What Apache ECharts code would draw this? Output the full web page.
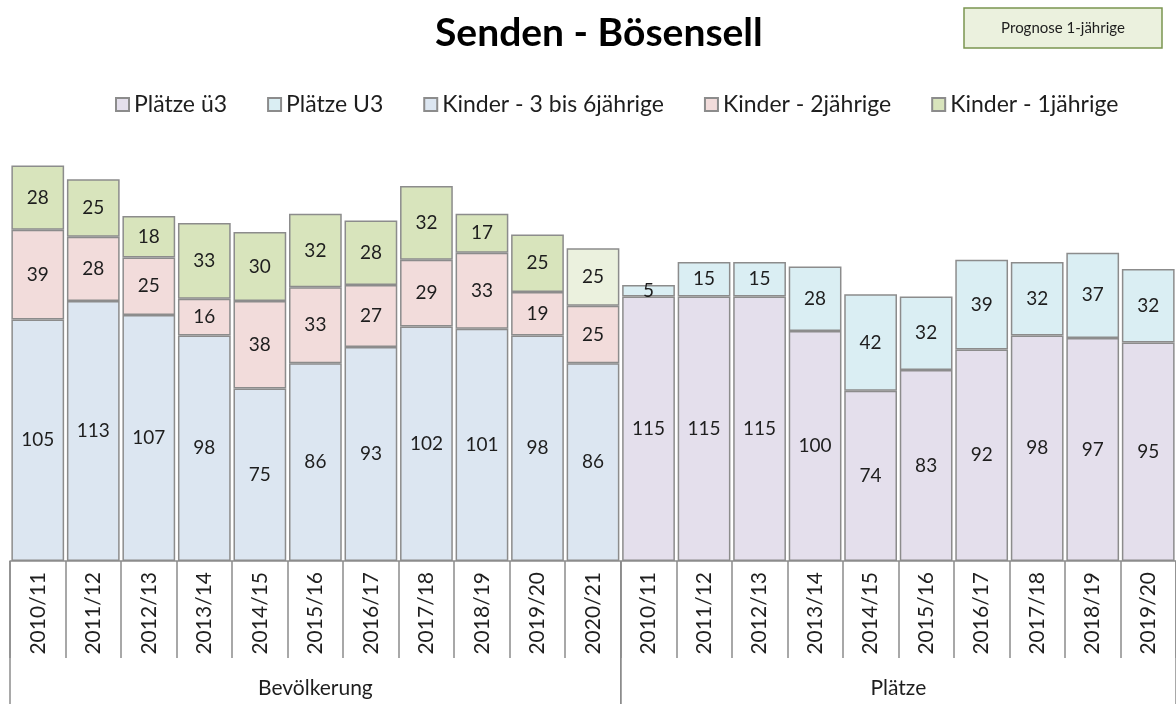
<!DOCTYPE html>
<html><head><meta charset="utf-8">
<script src="https://cdn.jsdelivr.net/npm/echarts@6/dist/echarts.min.js"></script>
<style>html,body{margin:0;padding:0;background:#fff}#c{width:1176px;height:704px}</style>
</head><body><div id="c"></div>
<script>
// ---- data ----
const categories = ['2010/11','2011/12','2012/13','2013/14','2014/15','2015/16','2016/17','2017/18','2018/19','2019/20','2020/21',
                    '2010/11','2011/12','2012/13','2013/14','2014/15','2015/16','2016/17','2017/18','2018/19','2019/20'];
const groupNames = ['Bevölkerung', 'Plätze'];
const groupSizes = [11, 10];
const kinder36   = [105,113,107,98,75,86,93,102,101,98,86, null,null,null,null,null,null,null,null,null,null];
const kinder2    = [39,28,25,16,38,33,27,29,33,19,25,      null,null,null,null,null,null,null,null,null,null];
const kinder1    = [28,25,18,33,30,32,28,32,17,25,25,      null,null,null,null,null,null,null,null,null,null];
const kinder1Prognose = [false,false,false,false,false,false,false,false,false,false,true, false,false,false,false,false,false,false,false,false,false];
const plaetzeUe3 = [null,null,null,null,null,null,null,null,null,null,null, 115,115,115,100,74,83,92,98,97,95];
const plaetzeU3  = [null,null,null,null,null,null,null,null,null,null,null, 5,15,15,28,42,32,39,32,37,32];
const seriesNames = ['Plätze ü3', 'Plätze U3', 'Kinder - 3 bis 6jährige', 'Kinder - 2jährige', 'Kinder - 1jährige'];
const prognoseText = 'Prognose 1-jährige';

// ---- style ----
const FONT = 'Lato';
const colors = ['#e4dfec', '#daeef3', '#dce6f1', '#f2dcdb', '#d8e4bc'];
const prognoseColor = '#ebf1de';
const borderCol = '#8c8c8c';
const textCol = '#1e1e1e';

const chart = echarts.init(document.getElementById('c'), null, {renderer: 'canvas'});

function mkSeries(name, data, color, prog) {
  return {
    name: name, type: 'bar', stack: 'all',
    barCategoryGap: '5%',
    data: data.map((v, i) => (prog && prog[i] && v != null) ? {value: v, itemStyle: {color: prognoseColor}} : v),
    itemStyle: {color: color, borderColor: borderCol, borderWidth: 1.5},
    label: {show: true, position: 'inside', color: textCol, fontFamily: FONT, fontSize: 19,
            formatter: p => (p.value == null ? '' : String(p.value))},
    emphasis: {disabled: true},
    animation: false
  };
}

const GRID_LEFT = 10, CAT_W = 55.8;
chart.setOption({
  animation: false,
  title: {text: 'Senden - Bösensell', left: 430, top: 9,
          textStyle: {fontFamily: FONT, fontWeight: 'bold', fontSize: 39, color: '#000'}},
  legend: {
    data: seriesNames, left: 110, top: 88, itemWidth: 13, itemHeight: 13, itemGap: 40,
    icon: 'rect',
    textStyle: {fontFamily: FONT, fontSize: 23, color: textCol},
    selectedMode: false
  },
  grid: {left: GRID_LEFT, top: 101, width: CAT_W * categories.length, bottom: 143, containLabel: false},
  xAxis: {
    type: 'category', data: categories,
    axisLine: {show: true, lineStyle: {color: borderCol, width: 1.5}},
    axisTick: {show: true, interval: 0, length: 97, lineStyle: {color: borderCol, width: 1.5}},
    axisLabel: {interval: 0, rotate: 90, margin: 11, fontFamily: FONT, fontSize: 21, color: textCol}
  },
  yAxis: {type: 'value', min: 0, max: 200, show: false, splitLine: {show: false}},
  series: [
    mkSeries(seriesNames[0], plaetzeUe3, colors[0]),
    mkSeries(seriesNames[1], plaetzeU3, colors[1]),
    mkSeries(seriesNames[2], kinder36, colors[2]),
    mkSeries(seriesNames[3], kinder2, colors[3]),
    mkSeries(seriesNames[4], kinder1, colors[4], kinder1Prognose)
  ]
});

// group separators and group labels (multi-level axis)
const graphics = [];
const axisY = chart.convertToPixel({yAxisIndex: 0}, 0);
let start = 0;
function boundary(idx) {
  const a = chart.convertToPixel({xAxisIndex: 0}, idx);
  const b = chart.convertToPixel({xAxisIndex: 0}, idx + 1);
  return a - (b - a) / 2;
}
for (let g = 0; g < groupNames.length; g++) {
  const x0 = boundary(start);
  const x1 = boundary(start + groupSizes[g]);
  graphics.push({type: 'line', shape: {x1: x0, y1: axisY, x2: x0, y2: 704}, style: {stroke: borderCol, lineWidth: 1.5}, silent: true});
  graphics.push({type: 'line', shape: {x1: x1, y1: axisY, x2: x1, y2: 704}, style: {stroke: borderCol, lineWidth: 1.5}, silent: true});
  graphics.push({type: 'text', x: (x0 + x1) / 2, y: 688,
    style: {text: groupNames[g], font: '21px ' + FONT, fill: textCol, textAlign: 'center', textVerticalAlign: 'middle'}, silent: true});
  start += groupSizes[g];
}
// prognose box
graphics.push({type: 'rect', shape: {x: 964, y: 8, width: 198, height: 40},
  style: {fill: prognoseColor, stroke: '#7b9550', lineWidth: 1.5}, silent: true});
graphics.push({type: 'text', x: 1063, y: 28,
  style: {text: prognoseText, font: '15px ' + FONT, fill: textCol, textAlign: 'center', textVerticalAlign: 'middle'}, silent: true});
chart.setOption({graphic: graphics});
</script>
</body></html>
